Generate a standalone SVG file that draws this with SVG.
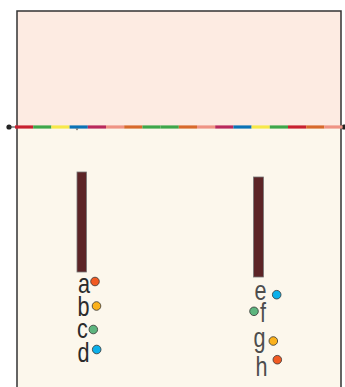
<svg xmlns="http://www.w3.org/2000/svg" width="345" height="387" viewBox="0 0 345 387">
<style>
.lbl{font-family:"Liberation Sans","Open Sans",sans-serif;font-size:27px;fill:#2b2b2b;text-anchor:middle}
.lbr{font-family:"Liberation Sans","Open Sans",sans-serif;font-size:27px;fill:#4d4d4d;text-anchor:middle}
.dot{stroke:#333;stroke-width:0.8}
.bar{fill:#5c2426;stroke:#777;stroke-width:0.8}
.seg{stroke-width:3.2}
</style>
<rect x="0" y="0" width="345" height="387" fill="#ffffff"/>
<g id="panel">
<rect x="17" y="11" width="324" height="116" fill="#fdebe2"/>
<rect x="17" y="127" width="324" height="262" fill="#fcf7ec"/>
<path d="M17 390 V11 H341 V390" fill="none" stroke="#333" stroke-width="1.5"/>
</g>
<g id="connectors">
<circle cx="9" cy="127" r="2.6" fill="#222"/>
<circle cx="344" cy="127" r="2.6" fill="#222"/>
<line x1="9" y1="127" x2="15" y2="127" stroke="#333" stroke-width="1"/>
<g class="seg">
<line x1="15" y1="127" x2="33.2" y2="127" stroke="#c8202f"/>
<line x1="33.2" y1="127" x2="51.4" y2="127" stroke="#3ea64a"/>
<line x1="51.4" y1="127" x2="69.6" y2="127" stroke="#f7e84a"/>
<line x1="69.6" y1="127" x2="87.8" y2="127" stroke="#0b72b6"/>
<line x1="87.8" y1="127" x2="106" y2="127" stroke="#b9285c"/>
<line x1="106" y1="127" x2="124.2" y2="127" stroke="#ef9384"/>
<line x1="124.2" y1="127" x2="142.4" y2="127" stroke="#d8692b"/>
<line x1="142.4" y1="127" x2="160.6" y2="127" stroke="#3ea64a"/>
<line x1="160.6" y1="127" x2="178.8" y2="127" stroke="#3ea64a"/>
<line x1="178.8" y1="127" x2="197" y2="127" stroke="#d8692b"/>
<line x1="197" y1="127" x2="215.2" y2="127" stroke="#ef9384"/>
<line x1="215.2" y1="127" x2="233.4" y2="127" stroke="#b9285c"/>
<line x1="233.4" y1="127" x2="251.6" y2="127" stroke="#0b72b6"/>
<line x1="251.6" y1="127" x2="269.8" y2="127" stroke="#f7e84a"/>
<line x1="269.8" y1="127" x2="288" y2="127" stroke="#3ea64a"/>
<line x1="288" y1="127" x2="306.2" y2="127" stroke="#c8202f"/>
<line x1="306.2" y1="127" x2="324.4" y2="127" stroke="#d8692b"/>
<line x1="324.4" y1="127" x2="342.6" y2="127" stroke="#ef9384"/>
</g>
<path d="M75.5 128.5 L78.5 128.5 L77 130.5 Z" fill="#666"/>
</g>
<g id="bar-left">
<rect class="bar" x="77" y="172" width="9.5" height="100"/>
</g>
<g id="bar-right">
<rect class="bar" x="253.5" y="177" width="10" height="100"/>
</g>
<g id="label-a"><text class="lbl" transform="translate(84,293) scale(0.8,1)">a</text><circle class="dot" cx="95" cy="281.5" r="4.3" fill="#f15a22"/></g>
<g id="label-b"><text class="lbl" transform="translate(83.5,315.5) scale(0.8,1)">b</text><circle class="dot" cx="96.5" cy="306" r="4.3" fill="#fbb11b"/></g>
<g id="label-c"><text class="lbl" transform="translate(82.5,338) scale(0.8,1)">c</text><circle class="dot" cx="93.3" cy="329.5" r="4.3" fill="#5db57e"/></g>
<g id="label-d"><text class="lbl" transform="translate(83.5,361.5) scale(0.8,1)">d</text><circle class="dot" cx="96.7" cy="349.5" r="4.3" fill="#0cb0ea"/></g>
<g id="label-e"><text class="lbr" transform="translate(260.5,300) scale(0.8,1)">e</text><circle class="dot" cx="276.7" cy="294.7" r="4.3" fill="#0cb0ea"/></g>
<g id="label-f"><text class="lbr" transform="translate(263,322) scale(0.8,1)">f</text><circle class="dot" cx="254" cy="311.3" r="4.3" fill="#5db57e"/></g>
<g id="label-g"><text class="lbr" transform="translate(259.5,347) scale(0.8,1)">g</text><circle class="dot" cx="273.3" cy="341" r="4.3" fill="#fbb11b"/></g>
<g id="label-h"><text class="lbr" transform="translate(261.5,376) scale(0.8,1)">h</text><circle class="dot" cx="277.3" cy="359.7" r="4.3" fill="#f15a22"/></g>
</svg>
